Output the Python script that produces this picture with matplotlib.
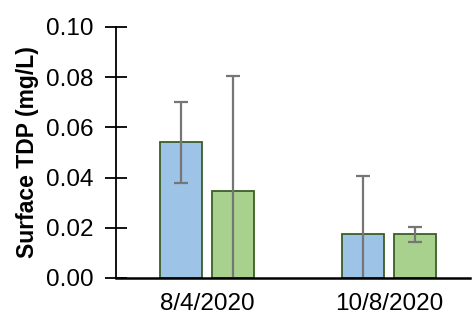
import matplotlib
matplotlib.use("Agg")
import matplotlib.pyplot as plt
import numpy as np

plt.rcParams['font.family'] = ['Liberation Sans', 'DejaVu Sans']

dates = ["8/4/2020", "10/8/2020"]
series_a = [0.054, 0.0175]
series_a_err = [0.016, 0.023]
series_b = [0.0345, 0.0175]
series_b_err = [0.046, 0.003]
yticks = [0.00, 0.02, 0.04, 0.06, 0.08, 0.10]

fig = plt.figure(figsize=(4.77, 3.24), dpi=100)
ax = fig.add_axes([0.243, 0.142, 0.742, 0.775])

x = np.arange(len(dates))
w = 0.23
off = 0.143
err_kw = dict(ecolor="#767676", elinewidth=1.6, capsize=5, capthick=1.6)
ax.bar(x - off, series_a, w, yerr=series_a_err, color="#9DC3E6",
       edgecolor="#3B5E26", linewidth=1.3, error_kw=err_kw, zorder=2)
ax.bar(x + off, series_b, w, yerr=series_b_err, color="#A9D18E",
       edgecolor="#3B5E26", linewidth=1.3, error_kw=err_kw, zorder=2)

ax.set_xlim(-0.5, 1.445)
ax.set_ylim(0, 0.10)
ax.set_yticks(yticks)
ax.set_yticklabels([f"{v:.2f}" for v in yticks], fontsize=17.5)
ax.set_xticks(x)
ax.set_xticklabels(dates, fontsize=17.5)
ax.tick_params(axis='x', length=0, pad=11)
ax.tick_params(axis='y', direction='inout', length=16, width=1.3, pad=8)
ax.set_ylabel("Surface TDP (mg/L)", fontsize=16.5, fontweight='bold', labelpad=5)

for s in ("top", "right"):
    ax.spines[s].set_visible(False)
ax.spines['left'].set_linewidth(1.3)
ax.spines['bottom'].set_linewidth(1.8)
ax.spines['left'].set_clip_on(False)

fig.savefig("out.png", dpi=100)
